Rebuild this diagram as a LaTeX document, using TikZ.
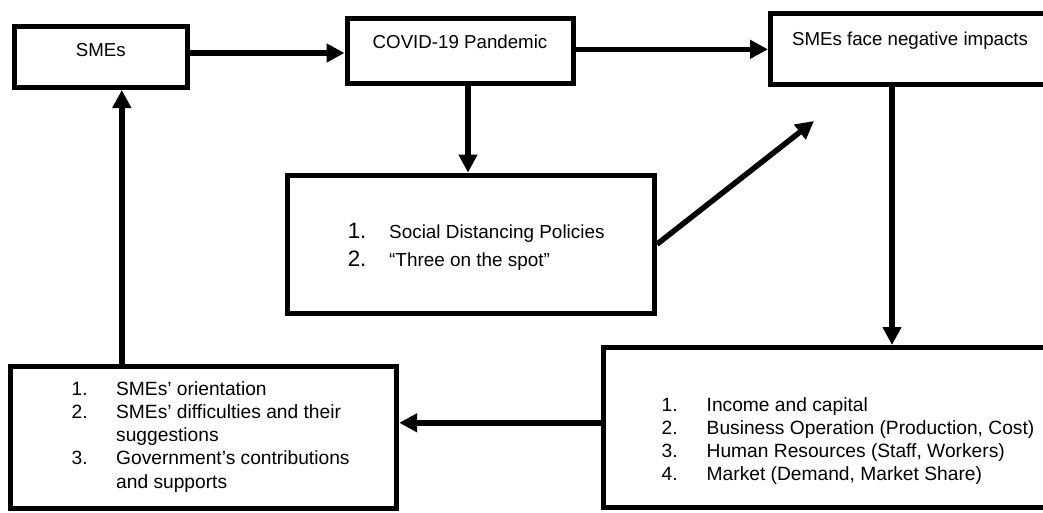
\documentclass[tikz,border=0pt]{standalone}
\usepackage{fontspec}
\setmainfont{Liberation Sans}
\usetikzlibrary{arrows.meta}
\newcommand{\numcol}[2]{\makebox[#1][l]{#2}}

\begin{document}
\begin{tikzpicture}[x=1pt,y=-1pt,font=\fontsize{18.7}{23.3}\selectfont,
  box/.style={draw,line width=5pt,inner sep=0pt,text height=13.4pt},
  arr/.style={-{Triangle[length=18pt,width=18pt]},line width=5.5pt},
  listtext/.style={anchor=base west,inner sep=0pt,font=\fontsize{19.2}{23.3}\selectfont}]
\useasboundingbox (0,0) rectangle (1043,512);
\clip (0,0) rectangle (1043,512);
\node[box,minimum width=173.5pt,minimum height=61pt,text depth=15.4pt] (smes) at (100.75,57) {SMEs};
\node[box,minimum width=226pt,minimum height=65.3pt,text depth=19.4pt] (covid) at (460,51.3) {COVID-19 Pandemic};
\node[box,minimum width=279pt,minimum height=71pt,text depth=20.4pt] (face) at (910,48.5) {SMEs face negative impacts};
\node[box,minimum width=367pt,minimum height=138.3pt] (policy) at (471,244.2) {};
\node[box,minimum width=385.7pt,minimum height=142pt] (support) at (203.8,437.8) {};
\node[box,minimum width=490pt,minimum height=160pt] (impact) at (848.7,427.5) {};
\node[listtext,font=\fontsize{18.9}{28.3}\selectfont] (policytext) at (347.6,238.5) {\begin{tabular}[t]{@{}l@{}l@{}}
\numcol{41.4pt}{\fontsize{22.3}{28.3}\selectfont 1.} & Social Distancing Policies\\
\numcol{41.4pt}{\fontsize{22.3}{28.3}\selectfont 2.} & “Three on the spot”
\end{tabular}};
\node[listtext] (supporttext) at (71.5,395) {\begin{tabular}[t]{@{}l@{}l@{}}
\numcol{44.5pt}{1.} & SMEs’ orientation\\
\numcol{44.5pt}{2.} & SMEs’ difficulties and their\\
 & suggestions\\
\numcol{44.5pt}{3.} & Government’s contributions\\
 & and supports
\end{tabular}};
\node[listtext] (impacttext) at (661.5,411) {\begin{tabular}[t]{@{}l@{}l@{}}
\numcol{45pt}{1.} & Income and capital\\
\numcol{45pt}{2.} & Business Operation (Production, Cost)\\
\numcol{45pt}{3.} & Human Resources (Staff, Workers)\\
\numcol{45pt}{4.} & Market (Demand, Market Share)
\end{tabular}};
\coordinate (tip) at (814,121);
\draw[arr] ([yshift=4pt]smes.east) -- ([yshift=4pt]smes.east -| covid.west);
\draw[arr] ([yshift=2pt]covid.east) -- ([yshift=2pt]covid.east -| face.west);
\draw[arr] ([xshift=8pt]covid.south) -- ([xshift=8pt]covid.south |- policy.north);
\draw[arr] (policy.east) -- (tip);
\draw[arr] ([xshift=-18pt]face.south) -- ([xshift=-18pt]face.south |- impact.north);
\draw[arr] ([yshift=15pt]support.east -| impact.west) -- ([yshift=15pt]support.east);
\draw[arr] ([xshift=-82pt]support.north) -- ([xshift=-82pt]support.north |- smes.south);
\end{tikzpicture}
\end{document}
